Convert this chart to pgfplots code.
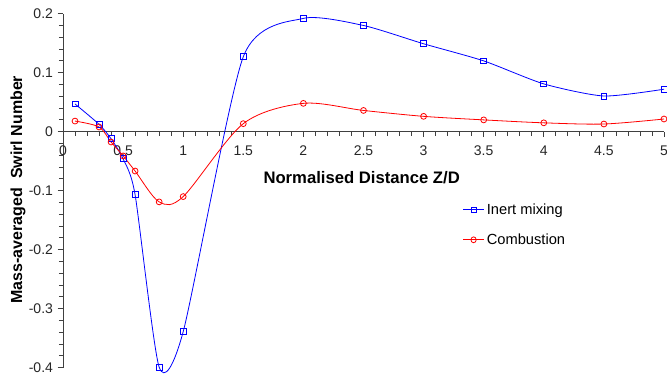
\documentclass[border=0pt]{standalone}
\usepackage{fontspec}
\setmainfont{Liberation Sans}
\usepackage{pgfplots}
\pgfplotsset{compat=1.18}
\begin{document}
\begin{tikzpicture}
\begin{axis}[
  scale only axis,
  width=450.75pt, height=265.5pt,
  xmin=0, xmax=5, ymin=-0.4, ymax=0.2,
  axis x line=middle, axis y line=left,
  axis line style={-, black!75, line width=0.7pt},
  hide obscured x ticks=false, hide obscured y ticks=false,
  xtick={0,0.5,...,5}, ytick={-0.4,-0.3,...,0.2},
  minor x tick num=4, minor y tick num=4,
  tick align=outside,
  major tick length=4pt, minor tick length=3pt,
  tick style={black!75, line width=0.6pt},
  /pgf/number format/assume math mode=true,
  /pgf/number format/fixed,
  /pgf/number format/precision=1,
  ticklabel style={font=\fontsize{10.5}{12}\selectfont, text=black!85},
  xticklabel style={yshift=-3pt},
  clip=false,
  xlabel={Normalised Distance Z/D},
  ylabel={Mass-averaged\ \ Swirl Number},
  xlabel style={at={(axis description cs:0.497,0.537)}, anchor=center, font=\fontsize{12.5}{14}\selectfont\bfseries},
  ylabel style={at={(axis description cs:-0.0749,0.503)}, anchor=center, rotate=0, font=\fontsize{12}{14}\selectfont\bfseries},
  legend style={at={(axis description cs:0.665,0.472)}, anchor=north west, draw=none, fill=none,
    font=\fontsize{11}{13}\selectfont, row sep=9pt, inner sep=0pt},
  legend cell align=left,
  legend image post style={xscale=0.9},
]
\addplot[blue, line width=0.6pt, smooth, tension=0.4, mark=square, mark size=2.2pt, mark options={solid, fill=none}] coordinates {
(0.1,0.047) (0.3,0.0125) (0.4,-0.012) (0.5,-0.046) (0.6,-0.107) (0.8,-0.399) (1.0,-0.339)
(1.5,0.127) (2.0,0.192) (2.5,0.180) (3.0,0.149) (3.5,0.120) (4.0,0.081) (4.5,0.0605) (5.0,0.072)};
\addlegendentry{Inert mixing}
\addplot[red, line width=0.6pt, smooth, tension=0.5, mark=o, mark size=2.2pt, mark options={solid, fill=none}] coordinates {
(0.1,0.018) (0.3,0.008) (0.4,-0.0175) (0.5,-0.041) (0.6,-0.0667) (0.8,-0.119) (1.0,-0.110)
(1.5,0.0136) (2.0,0.048) (2.5,0.036) (3.0,0.026) (3.5,0.020) (4.0,0.015) (4.5,0.013) (5.0,0.0215)};
\addlegendentry{Combustion}
\coordinate (bbl) at (axis cs:-0.524,-0.414);
\coordinate (btr) at (axis cs:5.025,0.2232);
\end{axis}
\pgfresetboundingbox
\useasboundingbox (bbl) rectangle (btr);
\end{tikzpicture}
\end{document}
